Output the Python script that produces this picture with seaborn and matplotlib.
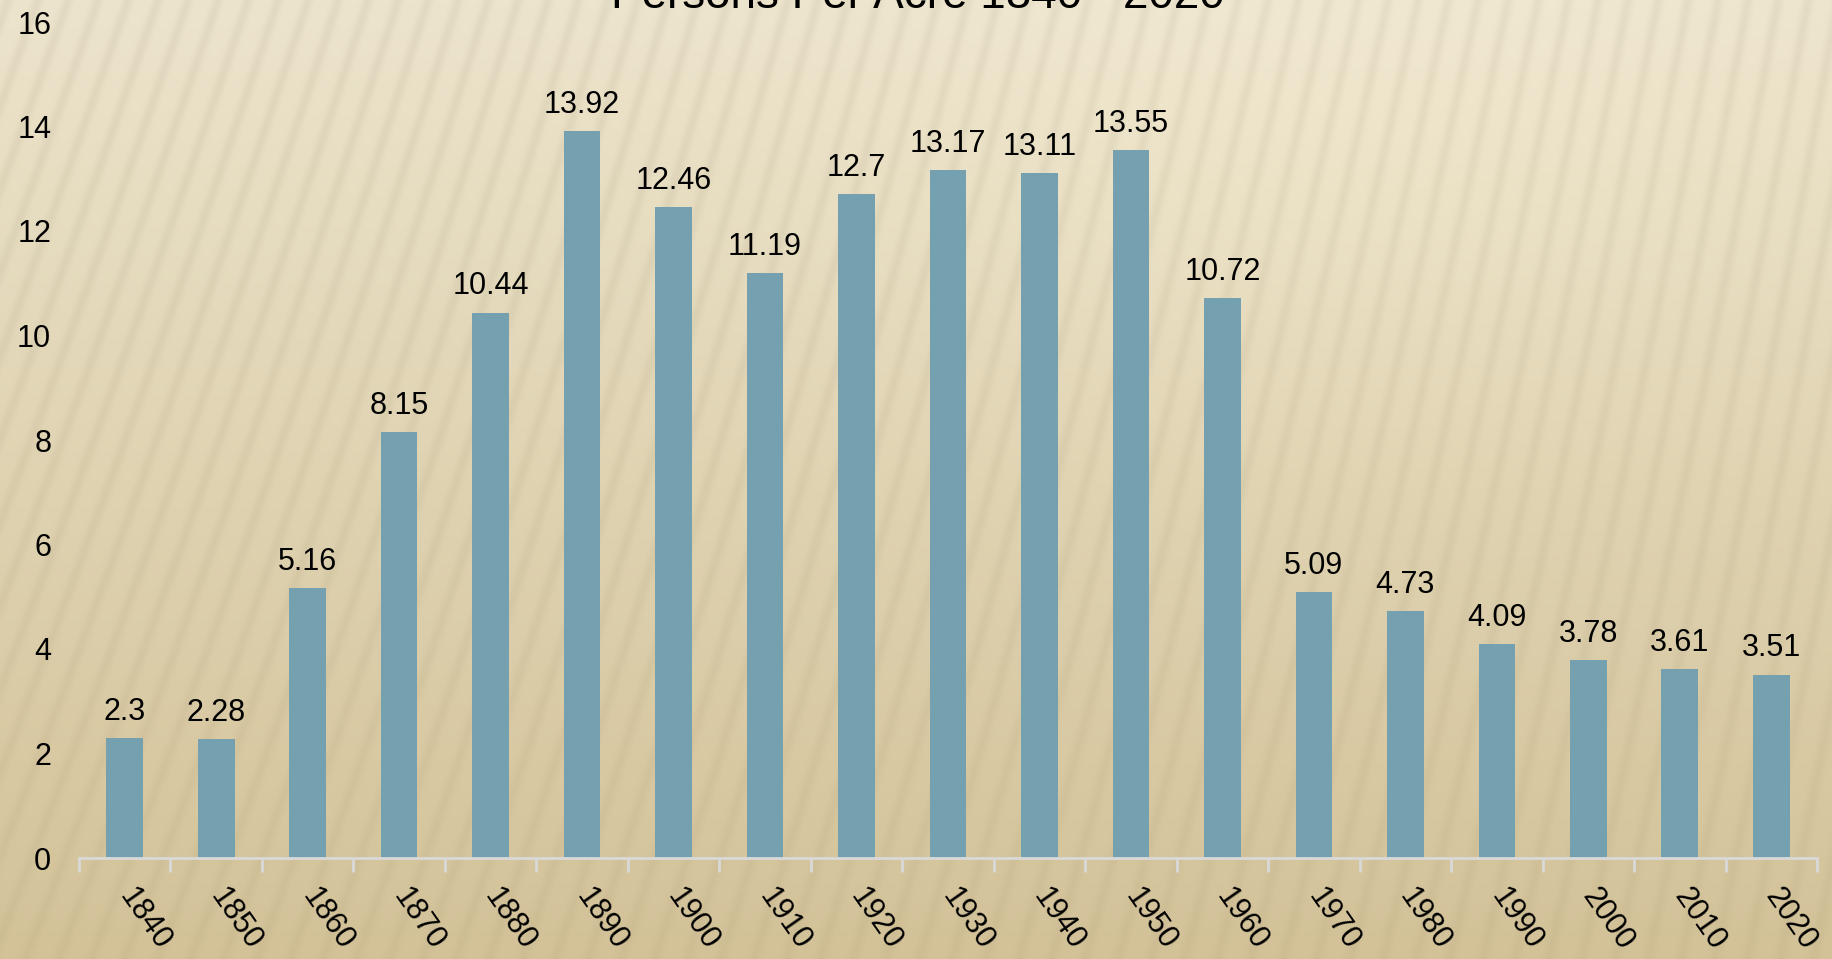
#Persons per acre by decade
import seaborn as sns
import numpy as np
import matplotlib.pyplot as plt

years = ['1840', '1850', '1860', '1870', '1880', '1890', '1900', '1910', '1920', '1930',
         '1940', '1950', '1960', '1970', '1980', '1990', '2000', '2010', '2020']
persons_per_acre = [2.3, 2.28, 5.16, 8.15, 10.44, 13.92, 12.46, 11.19, 12.7, 13.17,
                    13.11, 13.55, 10.72, 5.09, 4.73, 4.09, 3.78, 3.61, 3.51]
title = 'Persons Per Acre 1840 - 2020'
yticks = [0, 2, 4, 6, 8, 10, 12, 14, 16]

sns.set_style("white")
plt.rcParams['font.family'] = ['Liberation Sans', 'DejaVu Sans']

W, H = 1833, 959
fig = plt.figure(figsize=(W / 100, H / 100), dpi=100)

# beige striped backdrop
rows, cols = np.mgrid[0:H, 0:W].astype(float)
t = rows / H
top = np.array([236, 228, 204]) / 255
bot = np.array([211, 194, 152]) / 255
img = top[None, None, :] * (1 - t[..., None]) + bot[None, None, :] * t[..., None]
k = 0.36 - 0.18 * cols / W
phase = (cols + k * rows) / 30.0
stripe = (0.5 + 0.5 * np.sin(2 * np.pi * phase)) ** 3
img -= (0.04 * (1 - 0.5 * t))[..., None] * stripe[..., None]
glow = np.exp(-(((cols - 1350) / 500) ** 2 + ((rows - 150) / 300) ** 2))
img += 0.02 * glow[..., None]
bg = fig.add_axes([0, 0, 1, 1], zorder=0)
bg.imshow(np.clip(img, 0, 1), aspect='auto', extent=(0, 1, 0, 1))
bg.axis('off')

ax = fig.add_axes([79 / W, (H - 858) / H, (1817 - 79) / W, (858 - 22) / H], zorder=1)
ax.set_facecolor('none')
sns.barplot(x=years, y=persons_per_acre, color='#74a0b0', saturation=1, width=0.4,
            edgecolor='none', linewidth=0, ax=ax)
ax.bar_label(ax.containers[0], labels=['%g' % v for v in persons_per_acre],
             padding=8, fontsize=22, color='black')

ax.set_xlim(-0.5, len(years) - 0.5)
ax.set_ylim(0, 16)
ax.set_yticks(yticks)
ax.set_yticklabels([str(v) for v in yticks], fontsize=22)
ax.tick_params(axis='y', length=0, pad=20, labelcolor='black')
ax.set_xticks(np.arange(len(years)))
ax.set_xticklabels(years, fontsize=22, rotation=-55, ha='left', va='center',
                   rotation_mode='anchor')
ax.tick_params(axis='x', which='major', length=0, pad=24, labelcolor='black')
ax.set_xticks(np.arange(-0.5, len(years)), minor=True)
ax.tick_params(axis='x', which='minor', bottom=True, length=10, width=2,
               color='#d9d9d9', direction='out')
for s in ['top', 'right', 'left']:
    ax.spines[s].set_visible(False)
ax.spines['bottom'].set_color('#d9d9d9')
ax.spines['bottom'].set_linewidth(2)
ax.set_xlabel('')
ax.set_ylabel('')

fig.text(918 / W, 1 - 8 / H, title, ha='center', va='baseline', fontsize=33, color='black')

fig.savefig('out.png', dpi=100)
